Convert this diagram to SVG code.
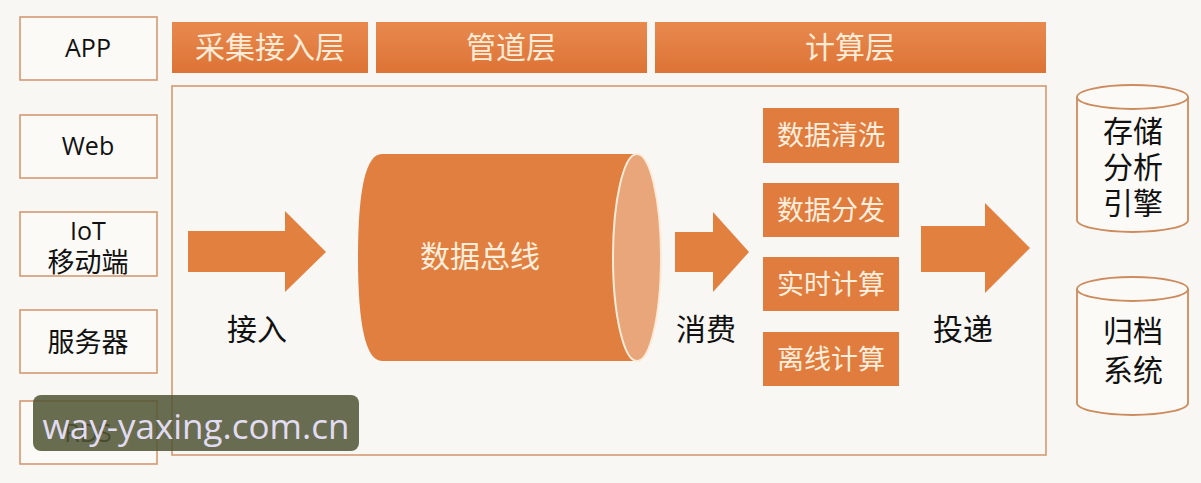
<svg xmlns="http://www.w3.org/2000/svg" width="1201" height="483" viewBox="0 0 1201 483">
<defs>
<linearGradient id="hdr" x1="0" y1="0" x2="0" y2="1">
<stop offset="0" stop-color="#E8894F"/>
<stop offset="1" stop-color="#DD7335"/>
</linearGradient>
<style>
.src{fill:#FCFAF7;stroke:#D29A72;stroke-width:1.6}
.lbl{font-family:"Open Sans","Noto Sans CJK SC",sans-serif;fill:#111;text-anchor:middle}
.hd{fill:url(#hdr)}
.hdt{font-family:"Noto Sans CJK SC",sans-serif;font-size:30px;fill:#FCEBD6;text-anchor:middle}
.box{fill:#E07C3E}
.bt{font-family:"Noto Sans CJK SC",sans-serif;font-size:27px;fill:#FCEEDD;text-anchor:middle}
.arr{fill:#E2803F}
.al{font-family:"Noto Sans CJK SC",sans-serif;font-size:30px;fill:#111;text-anchor:middle}
.db{fill:#FCFAF7;stroke:#CC8C5E;stroke-width:1.8}
.dbt{font-family:"Noto Sans CJK SC",sans-serif;font-size:30px;fill:#111;text-anchor:middle}
</style>
</defs>
<rect width="1201" height="483" fill="#F9F7F4"/>

<g id="src-app"><rect class="src" x="20" y="17" width="137" height="63"/><text class="lbl" x="88" y="57" font-size="25">APP</text></g>
<g id="src-web"><rect class="src" x="20" y="115" width="137" height="63"/><text class="lbl" x="88" y="155" font-size="25">Web</text></g>
<g id="src-iot"><rect class="src" x="20" y="212" width="137" height="64"/><text class="lbl" x="88" y="240" font-size="25">IoT</text><text class="lbl" x="88" y="272" font-size="27">移动端</text></g>
<g id="src-server"><rect class="src" x="20" y="310" width="137" height="63"/><text class="lbl" x="88" y="352" font-size="27">服务器</text></g>
<g id="src-rds"><rect class="src" x="20" y="401" width="137" height="63"/><text class="lbl" x="88" y="442" font-size="25">RDS</text></g>

<g id="layer-collect"><rect class="hd" x="172" y="22" width="196" height="51"/><text class="hdt" x="270" y="58">采集接入层</text></g>
<g id="layer-pipe"><rect class="hd" x="376" y="22" width="271" height="51"/><text class="hdt" x="511" y="58">管道层</text></g>
<g id="layer-compute"><rect class="hd" x="655" y="22" width="391" height="51"/><text class="hdt" x="850" y="58">计算层</text></g>

<g id="frame"><rect x="172" y="86" width="874" height="369" fill="none" stroke="#D29A72" stroke-width="1.6"/></g>

<g id="bus">
<path d="M382 154 L637 154 L637 361 L382 361 Q358 361 358 257.5 Q358 154 382 154 Z" fill="#E07F3F"/>
<ellipse cx="637" cy="257.5" rx="24" ry="103.5" fill="#E9A67A" stroke="#FBEBD8" stroke-width="2"/>
<text x="480" y="267" font-family="'Noto Sans CJK SC',sans-serif" font-size="30" fill="#FCEEDD" text-anchor="middle">数据总线</text>
</g>

<g id="compute-clean"><rect class="box" x="763" y="108" width="136" height="55"/><text class="bt" x="831" y="145">数据清洗</text></g>
<g id="compute-dist"><rect class="box" x="763" y="183" width="136" height="54"/><text class="bt" x="831" y="220">数据分发</text></g>
<g id="compute-rt"><rect class="box" x="763" y="257" width="136" height="54"/><text class="bt" x="831" y="294">实时计算</text></g>
<g id="compute-off"><rect class="box" x="763" y="332" width="136" height="54"/><text class="bt" x="831" y="369">离线计算</text></g>

<g id="store-engine">
<path class="db" d="M1077 97 L1077 220 A55.5 12 0 0 0 1188 220 L1188 97"/>
<ellipse class="db" cx="1132.5" cy="97" rx="55.5" ry="12"/>
<text class="dbt" x="1133" y="142">存储</text>
<text class="dbt" x="1133" y="178">分析</text>
<text class="dbt" x="1133" y="214">引擎</text>
</g>
<g id="store-archive">
<path class="db" d="M1077 289 L1077 403 A55.5 12 0 0 0 1188 403 L1188 289"/>
<ellipse class="db" cx="1132.5" cy="289" rx="55.5" ry="12"/>
<text class="dbt" x="1133" y="342">归档</text>
<text class="dbt" x="1133" y="381">系统</text>
</g>

<g id="connectors">
<path class="arr" d="M188 231 L285 231 L285 211 L326 252 L285 292 L285 272 L188 272 Z"/>
<text class="al" x="257" y="340">接入</text>
<path class="arr" d="M675 232 L713 232 L713 212 L749 252 L713 292 L713 272 L675 272 Z"/>
<text class="al" x="706" y="340">消费</text>
<path class="arr" d="M921 226 L985 226 L985 203 L1030 248 L985 293 L985 272 L921 272 Z"/>
<text class="al" x="963" y="340">投递</text>
</g>

<g id="watermark">
<rect x="33" y="395" width="326" height="56" rx="8" fill="#505534" fill-opacity="0.86"/>
<text x="196" y="439" font-family="'Open Sans',sans-serif" font-size="35" fill="#E2DCF2" text-anchor="middle">way-yaxing.com.cn</text>
</g>
</svg>
